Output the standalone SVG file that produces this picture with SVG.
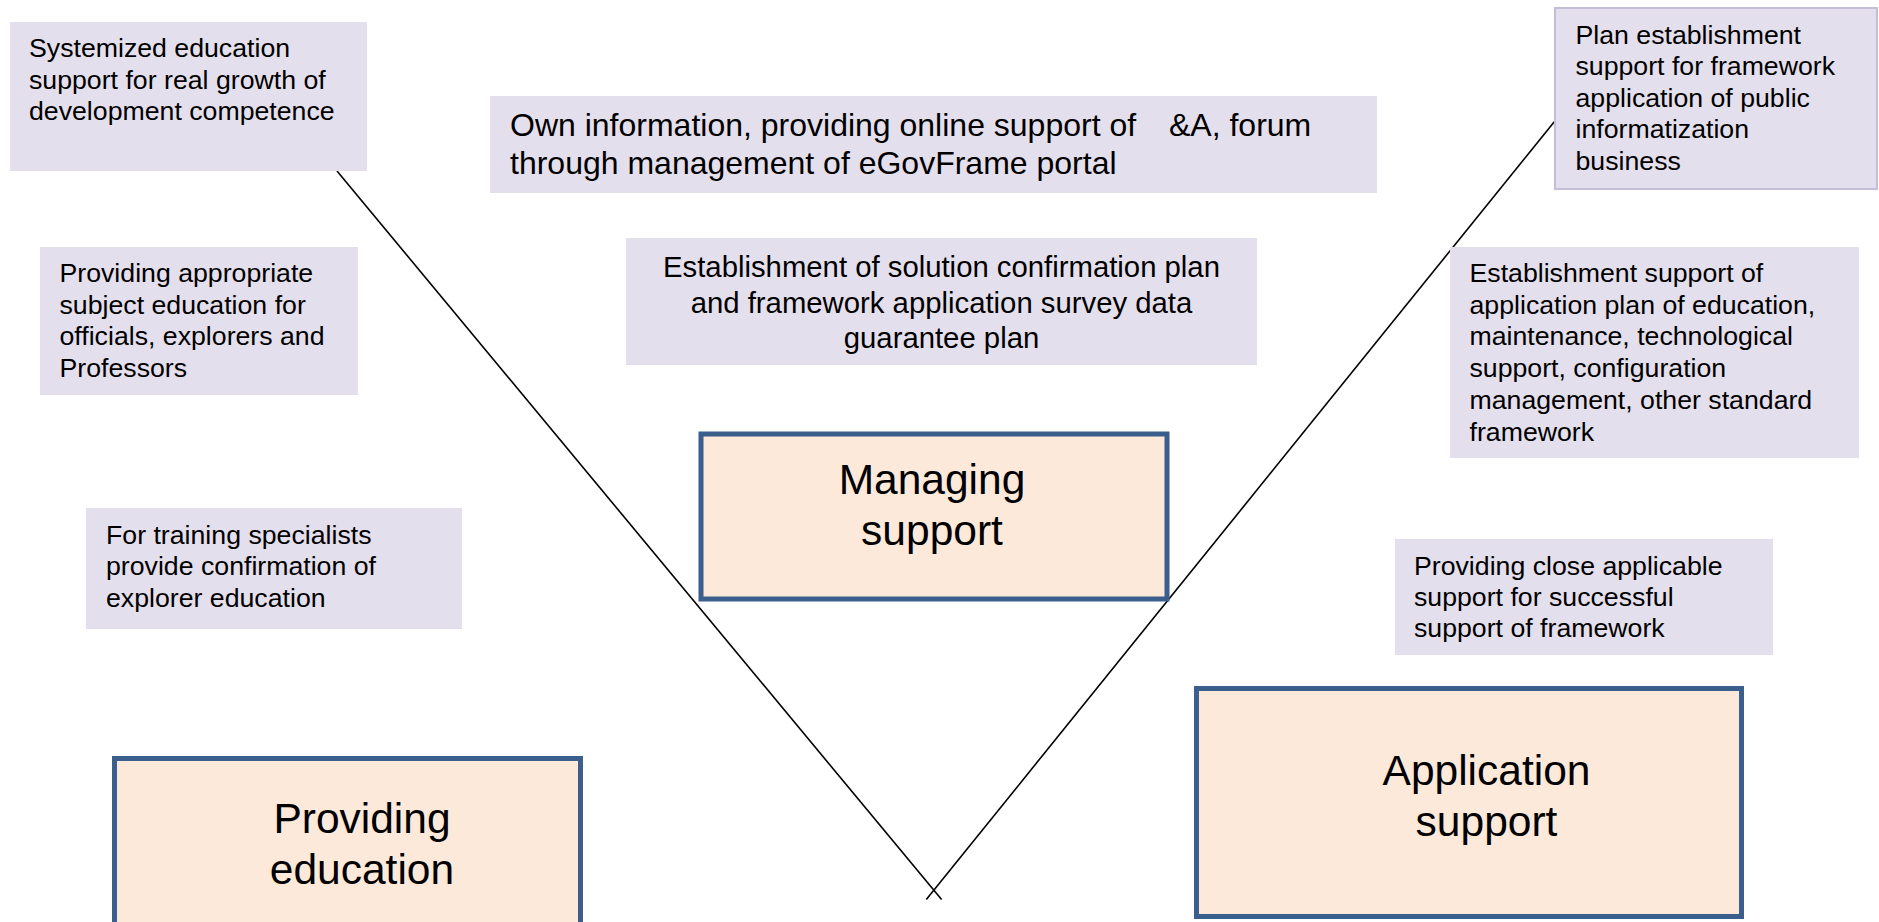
<svg xmlns="http://www.w3.org/2000/svg" width="1879" height="922" viewBox="0 0 1879 922">
<style>
.note{fill:#e4dfec}
.bordered{stroke:#c6bdd9;stroke-width:2}
.main{fill:#fde9d9;stroke:#3b5f8c;stroke-width:5}
.t{font-family:"Liberation Sans",Arial,sans-serif;font-size:26.7px;fill:#000}
.tm{font-family:"Liberation Sans",Arial,sans-serif;font-size:32px;fill:#000}
.td{font-family:"Liberation Sans",Arial,sans-serif;font-size:29.3px;fill:#000;text-anchor:middle}
.big{font-family:"Liberation Sans",Arial,sans-serif;font-size:42.5px;fill:#000;text-anchor:middle}
.ln{stroke:#000;stroke-width:1.6;fill:none}
</style>
<rect width="1879" height="922" fill="#fff"/>
<g id="connectors">
<line class="ln" x1="337" y1="171" x2="941.6" y2="899.5"/>
<line class="ln" x1="1554.3" y1="121.7" x2="926.3" y2="899.5"/>
</g>
<g id="note-systemized">
<rect class="note" x="10" y="22" width="357" height="149"/>
<text class="t" x="29"><tspan x="29" y="57">Systemized education</tspan><tspan x="29" y="88.5">support for real growth of</tspan><tspan x="29" y="120">development competence</tspan></text>
</g>
<g id="note-appropriate">
<rect class="note" x="40" y="247" width="318" height="148"/>
<text class="t"><tspan x="59.5" y="282">Providing appropriate</tspan><tspan x="59.5" y="313.5">subject education for</tspan><tspan x="59.5" y="345">officials, explorers and</tspan><tspan x="59.5" y="376.5">Professors</tspan></text>
</g>
<g id="note-training">
<rect class="note" x="86" y="508" width="376" height="121"/>
<text class="t"><tspan x="106" y="543.5">For training specialists</tspan><tspan x="106" y="575">provide confirmation of</tspan><tspan x="106" y="606.5">explorer education</tspan></text>
</g>
<g id="note-portal">
<rect class="note" x="490" y="96" width="887" height="97"/>
<text class="tm"><tspan x="510" y="135.5">Own information, providing online support of</tspan><tspan x="1169" y="135.5">&amp;A, forum</tspan><tspan x="510" y="173.5">through management of eGovFrame portal</tspan></text>
</g>
<g id="note-solution">
<rect class="note" x="626" y="238" width="631" height="127"/>
<text class="td"><tspan x="941.5" y="277">Establishment of solution confirmation plan</tspan><tspan x="941.5" y="312.5">and framework application survey data</tspan><tspan x="941.5" y="348">guarantee plan</tspan></text>
</g>
<g id="note-plan">
<rect class="note bordered" x="1555" y="8" width="322" height="181"/>
<text class="t"><tspan x="1575.5" y="43.5">Plan establishment</tspan><tspan x="1575.5" y="75">support for framework</tspan><tspan x="1575.5" y="106.5">application of public</tspan><tspan x="1575.5" y="138">informatization</tspan><tspan x="1575.5" y="169.5">business</tspan></text>
</g>
<g id="note-establishment">
<rect class="note" x="1450" y="247" width="409" height="211"/>
<text class="t"><tspan x="1469.5" y="282">Establishment support of</tspan><tspan x="1469.5" y="313.7">application plan of education,</tspan><tspan x="1469.5" y="345.4">maintenance, technological</tspan><tspan x="1469.5" y="377.1">support, configuration</tspan><tspan x="1469.5" y="408.8">management, other standard</tspan><tspan x="1469.5" y="440.5">framework</tspan></text>
</g>
<g id="note-close">
<rect class="note" x="1395" y="539" width="378" height="116"/>
<text class="t"><tspan x="1414" y="574.5">Providing close applicable</tspan><tspan x="1414" y="606">support for successful</tspan><tspan x="1414" y="637">support of framework</tspan></text>
</g>
<g id="managing-support">
<rect class="main" x="701" y="434" width="466" height="165"/>
<text class="big"><tspan x="932" y="494">Managing</tspan><tspan x="932" y="545">support</tspan></text>
</g>
<g id="providing-education">
<rect class="main" x="114.5" y="758.5" width="466" height="175"/>
<text class="big"><tspan x="362" y="833">Providing</tspan><tspan x="362" y="884">education</tspan></text>
</g>
<g id="application-support">
<rect class="main" x="1196.5" y="688.5" width="545" height="228"/>
<text class="big"><tspan x="1486.5" y="785">Application</tspan><tspan x="1486.5" y="836">support</tspan></text>
</g>
</svg>
